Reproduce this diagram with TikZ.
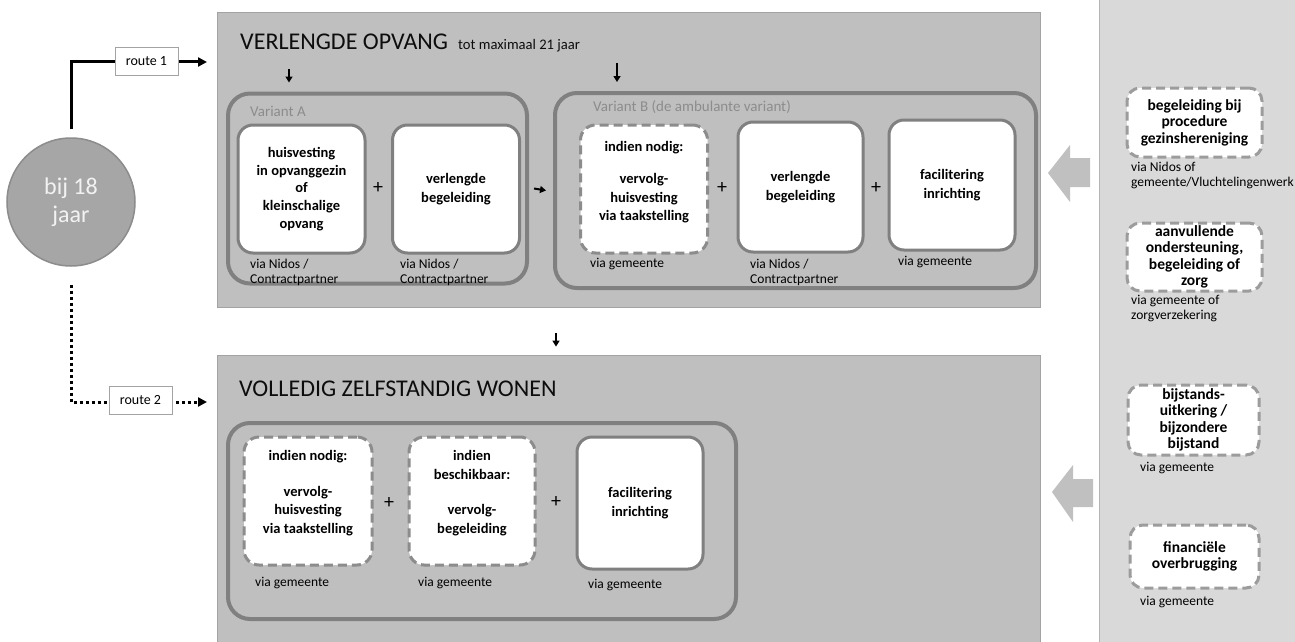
\documentclass[tikz,border=0pt]{standalone}
\usepackage{fontspec}
\setmainfont{Carlito}
\usetikzlibrary{arrows.meta}
\definecolor{panelgray}{HTML}{BFBFBF}
\definecolor{panelline}{HTML}{A3A3A3}
\definecolor{sidegray}{HTML}{D9D9D9}
\definecolor{sideline}{HTML}{B5B5B5}
\definecolor{groupline}{HTML}{808080}
\definecolor{boxline}{HTML}{808080}
\definecolor{dashline}{HTML}{8C8C8C}
\definecolor{sidedash}{HTML}{9C9C9C}
\definecolor{circfill}{HTML}{A6A6A6}
\definecolor{circline}{HTML}{8C8C8C}
\definecolor{labelgray}{HTML}{8C8C8C}
\definecolor{bigarrow}{HTML}{C0C0C0}
\definecolor{titlecol}{HTML}{0D0D0D}
\newcommand\dgBoxFont{\fontsize{14.5}{18.5}\selectfont\bfseries}
\newcommand\dgSideFont{\fontsize{15.5}{16.5}\selectfont\bfseries}
\newcommand\dgCapFont{\fontsize{13.5}{15.5}\selectfont}
\begin{document}
\begin{tikzpicture}[x=1pt,y=-1pt,
  panel/.style={draw=panelline, fill=panelgray, line width=0.8pt, inner sep=0pt},
  group/.style={draw=groupline, line width=4pt, rounded corners=22pt, inner sep=0pt},
  solidbox/.style={draw=boxline, fill=white, line width=3pt, rounded corners=15pt,
     minimum width=127pt, minimum height=128pt, align=center, font=\dgBoxFont, inner sep=0pt},
  dashbox/.style={solidbox, draw=dashline, dash pattern=on 9pt off 5pt},
  sidebox/.style={dashbox, draw=sidedash, rounded corners=13pt, minimum width=134pt,
     minimum height=69pt, font=\dgSideFont},
  boxtext/.style={align=center, font=\dgBoxFont, inner sep=0pt},
  caption/.style={anchor=west, align=left, font=\dgCapFont, inner sep=0pt},
  plus/.style={font=\fontsize{20}{20}\selectfont, inner sep=0pt},
  grouplabel/.style={anchor=base west, text=labelgray, font=\fontsize{15}{16}\selectfont, inner sep=0pt},
  title/.style={anchor=base west, text=titlecol, font=\fontsize{24}{26}\selectfont, inner sep=0pt},
  routelabel/.style={draw=panelline, fill=white, line width=0.8pt, minimum width=63pt,
     minimum height=28pt, inner sep=0pt, font=\fontsize{14}{15}\selectfont},
  routeline/.style={line width=3pt, -{Triangle[length=9pt,width=9pt]}},
  routedots/.style={line width=3pt, dash pattern=on 3pt off 3pt, -{Triangle[length=9pt,width=9pt]}},
  downarrow/.style={line width=2pt, -{Triangle[length=6pt,width=7pt]}},
  bigarrowfill/.style={fill=bigarrow}
]
\useasboundingbox (0,0) rectangle (1295,642);
\fill[white] (0,0) rectangle (1295,642);

% side panel
\node[draw=sideline, fill=sidegray, line width=0.8pt, inner sep=0pt,
      minimum width=198pt, minimum height=646pt] (side) at (1198,321) {};

% main panels
\node[panel, minimum width=823pt, minimum height=295pt] (vo) at (628.5,159.5) {};
\node[panel, minimum width=823pt, minimum height=292pt] (vzw) at (628.5,501) {};

% titles
\node[title] (votitle) at (240,50) {VERLENGDE OPVANG};
\node[anchor=base west, text=titlecol, font=\fontsize{14.6}{16}\selectfont, inner sep=0pt] (vosub) at (458,49) {tot maximaal 21 jaar};
\node[title] (vzwtitle) at (239,396) {VOLLEDIG ZELFSTANDIG WONEN};

% group frames
\node[group, minimum width=299pt, minimum height=190pt] (varA) at (377.5,188.5) {};
\node[group, minimum width=481pt, minimum height=195pt] (varB) at (795.5,190.5) {};
\node[group, minimum width=508pt, minimum height=196pt] (grpC) at (482,521) {};
\node[grouplabel] (varAlab) at (250,116) {Variant A};
\node[grouplabel] (varBlab) at (593,111) {Variant B (de ambulante variant)};

% variant A boxes
\node[solidbox, font=\fontsize{14.5}{17.7}\selectfont\bfseries] (A1) at (301.5,189) {huisvesting\\in opvanggezin\\of\\kleinschalige\\opvang};
\node[solidbox] (A2) at (456,189) {verlengde\\begeleiding};
\node[plus] (pA) at (378,188) {+};
\node[caption] (capA1) at (250,272.5) {via Nidos /\\Contractpartner};
\node[caption] (capA2) at (400,272.5) {via Nidos /\\Contractpartner};

% variant B boxes
\node[dashbox] (B1) at (644,189) {};
\node[boxtext] (B1t) at (644,182) {indien nodig:\\[14pt]vervolg-\\huisvesting\\via taakstelling};
\node[solidbox, minimum width=125pt, minimum height=130pt] (B2) at (800.5,187) {verlengde\\begeleiding};
\node[solidbox, minimum width=126pt, minimum height=130pt] (B3) at (952,185) {facilitering\\inrichting};
\node[plus] (pB1) at (722,188) {+};
\node[plus] (pB2) at (876,188) {+};
\node[caption] (capB1) at (590,264) {via gemeente};
\node[caption] (capB2) at (750,272.5) {via Nidos /\\Contractpartner};
\node[caption] (capB3) at (898,262) {via gemeente};

% bottom boxes
\node[dashbox, minimum width=128pt] (C1) at (308,501) {};
\node[boxtext] (C1t) at (308,493) {indien nodig:\\[17pt]vervolg-\\huisvesting\\via taakstelling};
\node[dashbox, minimum width=126pt] (C2) at (472,501) {};
\node[boxtext] (C2t) at (472,493) {indien\\beschikbaar:\\[17pt]vervolg-\\begeleiding};
\node[solidbox, minimum width=126pt, minimum height=132pt] (C3) at (640,503) {facilitering\\inrichting};
\node[plus] (pC1) at (389,503) {+};
\node[plus] (pC2) at (556,502) {+};
\node[caption] (capC1) at (255,583) {via gemeente};
\node[caption] (capC2) at (418,583) {via gemeente};
\node[caption] (capC3) at (588,585) {via gemeente};

% side boxes
\node[sidebox, minimum width=135pt] (R1) at (1194.5,122.5) {begeleiding bij\\procedure\\gezinshereniging};
\node[sidebox, minimum width=135pt, minimum height=68pt] (R2) at (1194.5,257) {aanvullende\\ondersteuning,\\begeleiding of\\zorg};
\node[sidebox, minimum width=131pt, minimum height=70pt] (R3) at (1193.5,420) {bijstands-\\uitkering /\\bijzondere\\bijstand};
\node[sidebox, minimum width=129pt, minimum height=63pt] (R4) at (1194.5,556.5) {financiële\\overbrugging};
\node[caption] (capR1) at (1131,175.5) {via Nidos of\\gemeente/Vluchtelingenwerk};
\node[caption] (capR2) at (1131,308.5) {via gemeente of\\zorgverzekering};
\node[caption] (capR3) at (1140,468) {via gemeente};
\node[caption] (capR4) at (1140,602) {via gemeente};

% big side arrows
\fill[bigarrowfill] (1048,173) -- (1070,145) -- (1070,158) -- (1090,158) -- (1090,187) -- (1070,187) -- (1070,202) -- cycle;
\fill[bigarrowfill] (1052,492) -- (1073,465) -- (1073,479) -- (1093,479) -- (1093,507) -- (1073,507) -- (1073,522) -- cycle;

% circle
\node[circle, draw=circline, fill=circfill, line width=1.5pt, minimum size=128pt, inner sep=0pt,
      align=center, text=white!95!black, font=\fontsize{24}{28}\selectfont] (start) at (71,202) {bij 18\\jaar};

% routes
\coordinate (r1end) at (207,62);
\coordinate (r2end) at (207,402);
\draw[routeline] ([yshift=8pt]start.north) |- (r1end);
\draw[routedots] ([yshift=-18pt]start.south) |- (r2end);
\node[routelabel] (route1) at (146.5,61) {route 1};
\node[routelabel] (route2) at (140.5,400) {route 2};

% small arrows
\coordinate (aStart) at (289,69);
\coordinate (bStart) at (617,63);
\coordinate (mStart) at (556,333);
\draw[downarrow] (aStart) -- ([yshift=9pt]aStart |- varA.north);
\draw[downarrow] (bStart) -- ([yshift=9pt]bStart |- varB.north);
\draw[downarrow] (mStart) -- ([yshift=8pt]mStart |- vzw.north);
\draw[downarrow] ([xshift=5pt]varA.east) -- ([xshift=-7pt]varB.west);
\end{tikzpicture}
\end{document}
